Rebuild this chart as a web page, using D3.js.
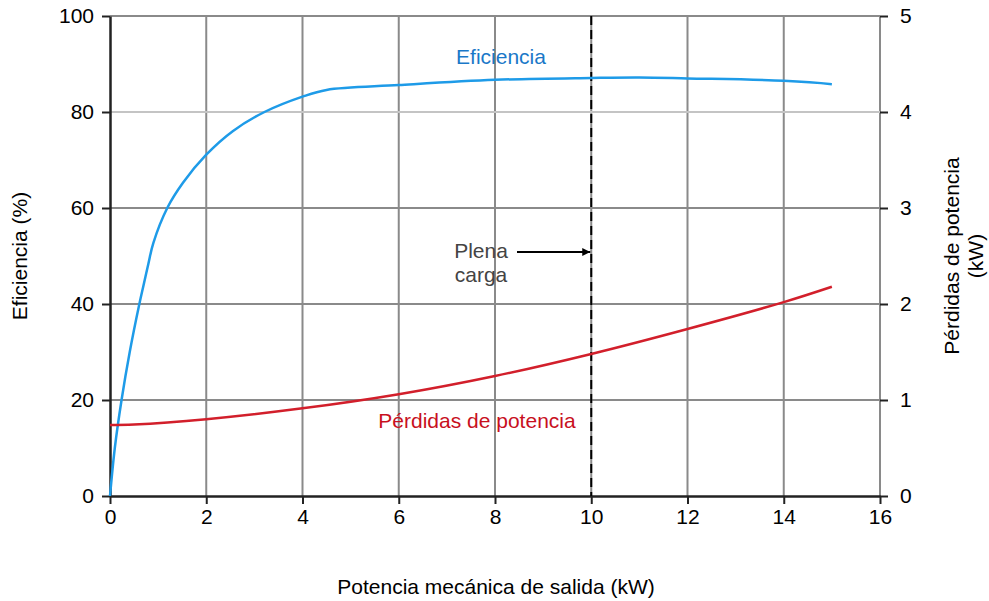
<!DOCTYPE html>
<meta charset="utf-8">
<script src="https://d3js.org/d3.v7.min.js"></script>
<style>
  body { margin: 0; background: #fff; }
  text { font-family: "Liberation Sans", Arial, sans-serif; }
</style>
<svg id="chart" width="989" height="601"></svg>
<script>
// Efficiency curve (kW, %)
var effX = [0, 0.10, 0.24, 0.41, 0.61, 0.69, 0.80, 0.90, 1.19, 1.52, 2.0, 2.55, 3.21, 4.0, 4.5, 6, 8, 10, 11, 12, 14, 15];
var effY = [0, 10, 20, 30, 40, 43.6, 48.5, 52.7, 60, 65.3, 71.1, 76, 80, 83.2, 84.6, 85.6, 86.7, 87.1, 87.2, 87.0, 86.5, 85.8];
// Power losses curve (kW, kW)
var lossX = [0, 0.5, 2, 4, 6, 8, 10, 12, 14, 15];
var lossY = [0.74, 0.745, 0.80, 0.913, 1.06, 1.25, 1.48, 1.74, 2.02, 2.18];
var xTicks = [0, 2, 4, 6, 8, 10, 12, 14, 16];
var yTicks = [0, 20, 40, 60, 80, 100];
var y2Ticks = [0, 1, 2, 3, 4, 5];
var fullLoad = 10;

var svg = d3.select("#chart");
var x = d3.scaleLinear().domain([0, 16]).range([110, 880]);
var y = d3.scaleLinear().domain([0, 100]).range([496, 16]);
var y2 = d3.scaleLinear().domain([0, 5]).range([496, 16]);
var fs = "21px";

// grid
svg.append("g").selectAll("line").data(xTicks.slice(1)).enter().append("line")
  .attr("x1", d => x(d)).attr("x2", d => x(d)).attr("y1", y(100)).attr("y2", y(0))
  .attr("stroke", "#8a8a8a").attr("stroke-width", 2);
svg.append("g").selectAll("line").data(yTicks.slice(1)).enter().append("line")
  .attr("x1", x(0)).attr("x2", x(16)).attr("y1", d => y(d)).attr("y2", d => y(d))
  .attr("stroke", d => d == 80 ? "#c4c4c4" : "#8a8a8a").attr("stroke-width", 2);

// axes
var gx = svg.append("g").attr("transform", "translate(0," + y(0) + ")")
  .call(d3.axisBottom(x).tickValues(xTicks).tickSize(8).tickSizeOuter(0).tickPadding(5));
var gy = svg.append("g").attr("transform", "translate(" + x(0) + ",0)")
  .call(d3.axisLeft(y).tickValues(yTicks).tickSize(8).tickSizeOuter(0).tickPadding(8));
var gy2 = svg.append("g").attr("transform", "translate(" + x(16) + ",0)")
  .call(d3.axisRight(y2).tickValues(y2Ticks).tickFormat(d3.format("d")).tickSize(8).tickSizeOuter(0).tickPadding(12));
[gx, gy, gy2].forEach(function(g) {
  g.selectAll("text").style("font-size", fs).attr("fill", "#000").style("font-family", "Liberation Sans, Arial, sans-serif");
  g.selectAll("line").attr("stroke", "#222").attr("stroke-width", 2);
});
gx.select(".domain").attr("stroke", "#222").attr("stroke-width", 2.5);
gy.select(".domain").attr("stroke", "#222").attr("stroke-width", 2.5);
gy2.select(".domain").remove();

// full load dashed line
svg.append("line")
  .attr("x1", x(fullLoad)).attr("x2", x(fullLoad)).attr("y1", y(100)).attr("y2", y(0))
  .attr("stroke", "#000").attr("stroke-width", 2).attr("stroke-dasharray", "9,5");

// curves
var effLine = d3.line().curve(d3.curveCatmullRom.alpha(0.5)).x(d => x(d[0])).y(d => y(d[1]));
svg.append("path").datum(d3.zip(effX, effY)).attr("d", effLine)
  .attr("fill", "none").attr("stroke", "#1e9be8").attr("stroke-width", 2.5);
var lossLine = d3.line().curve(d3.curveCatmullRom.alpha(0.5)).x(d => x(d[0])).y(d => y2(d[1]));
svg.append("path").datum(d3.zip(lossX, lossY)).attr("d", lossLine)
  .attr("fill", "none").attr("stroke", "#d21f2b").attr("stroke-width", 2.5);

// labels
svg.append("text").attr("x", 501).attr("y", 64).attr("text-anchor", "middle")
  .style("font-size", fs).attr("fill", "#1a78c8").text("Eficiencia");
svg.append("text").attr("x", 477).attr("y", 428).attr("text-anchor", "middle")
  .style("font-size", fs).attr("fill", "#c8101e").text("Pérdidas de potencia");
svg.append("text").attr("x", 481).attr("y", 258).attr("text-anchor", "middle")
  .style("font-size", fs).attr("fill", "#444").text("Plena");
svg.append("text").attr("x", 481).attr("y", 282).attr("text-anchor", "middle")
  .style("font-size", fs).attr("fill", "#444").text("carga");

// arrow
svg.append("defs").append("marker").attr("id", "arr").attr("viewBox", "0 0 10 10")
  .attr("refX", 10).attr("refY", 5).attr("markerWidth", 14).attr("markerHeight", 8)
  .attr("markerUnits", "userSpaceOnUse").attr("orient", "auto")
  .append("path").attr("d", "M0,0L10,5L0,10z").attr("fill", "#000");
svg.append("line").attr("x1", 517).attr("x2", x(fullLoad) - 1).attr("y1", 252).attr("y2", 252)
  .attr("stroke", "#000").attr("stroke-width", 2).attr("marker-end", "url(#arr)");

// axis titles
svg.append("text").attr("transform", "translate(27,256) rotate(-90)").attr("text-anchor", "middle")
  .style("font-size", fs).attr("fill", "#000").text("Eficiencia (%)");
svg.append("text").attr("transform", "translate(959,256) rotate(-90)").attr("text-anchor", "middle")
  .style("font-size", fs).attr("fill", "#000").text("Pérdidas de potencia");
svg.append("text").attr("transform", "translate(983,256) rotate(-90)").attr("text-anchor", "middle")
  .style("font-size", fs).attr("fill", "#000").text("(kW)");
svg.append("text").attr("x", 496).attr("y", 594).attr("text-anchor", "middle")
  .style("font-size", fs).attr("fill", "#000").text("Potencia mecánica de salida (kW)");
</script>
